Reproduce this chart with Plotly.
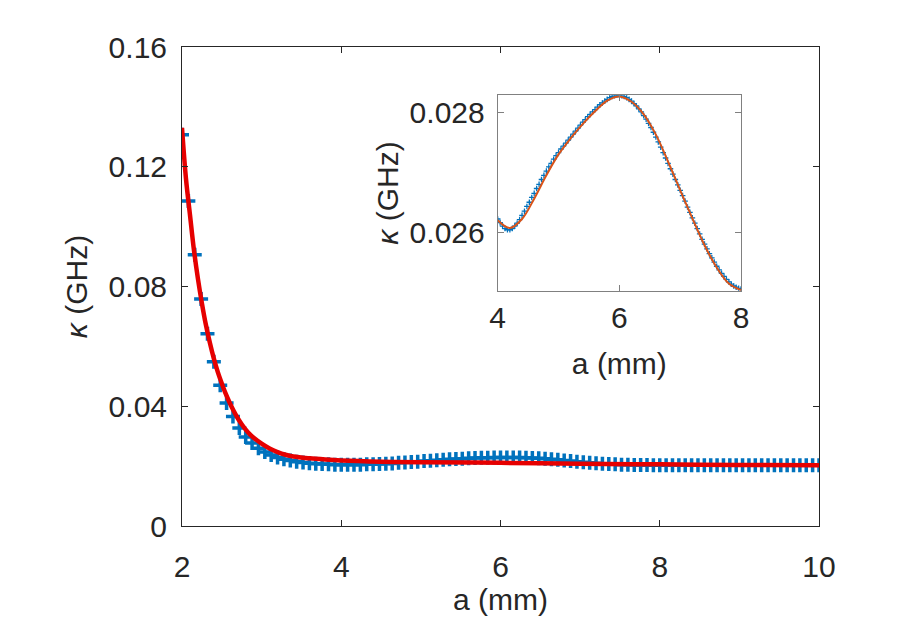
import numpy as np
import plotly.graph_objects as go

# main panel: simulated kappa (markers) vs a, step 0.08 mm
kappa_sim = [
    0.1307, 0.1086, 0.0906, 0.0758, 0.0642, 0.0549, 0.0470, 0.0411, 0.0366, 0.0327,
    0.0297, 0.0277, 0.0260, 0.0247, 0.0237, 0.0229, 0.0223, 0.0219, 0.0215, 0.0212,
    0.0210, 0.0208, 0.0207, 0.0206, 0.0205, 0.0205, 0.0205, 0.0205, 0.0205, 0.0206,
    0.0206, 0.0207, 0.0208, 0.0209, 0.0211, 0.0212, 0.0214, 0.0215, 0.0217, 0.0218,
    0.0220, 0.0221, 0.0223, 0.0224, 0.0225, 0.0226, 0.0227, 0.0228, 0.0228, 0.0229,
    0.0229, 0.0229, 0.0229, 0.0229, 0.0228, 0.0227, 0.0226, 0.0225, 0.0223, 0.0221,
    0.0219, 0.0217, 0.0215, 0.0213, 0.0211, 0.0210, 0.0208, 0.0207, 0.0206, 0.0205,
    0.0205, 0.0204, 0.0204, 0.0204, 0.0203, 0.0203, 0.0203, 0.0203, 0.0203, 0.0203,
    0.0203, 0.0203, 0.0203, 0.0203, 0.0203, 0.0203, 0.0203, 0.0203, 0.0203, 0.0203,
    0.0203, 0.0203, 0.0203, 0.0203, 0.0203, 0.0203, 0.0203, 0.0203, 0.0203, 0.0203,
    0.0203,
]
a_sim = np.linspace(2, 10, len(kappa_sim))

# main panel: fitted curve
a_fit = [2.00, 2.05, 2.10, 2.15, 2.20, 2.25, 2.30, 2.35, 2.40, 2.45, 2.50, 2.55,
         2.60, 2.65, 2.70, 2.75, 2.80, 2.85, 2.90, 3.00, 3.10, 3.20, 3.30, 3.40,
         3.60, 3.80, 4.00, 4.50, 5.00, 6.00, 7.00, 8.00, 9.00, 10.00]
kappa_fit = [0.1330, 0.1160, 0.1040, 0.0922, 0.0826, 0.0744, 0.0672, 0.0612, 0.0559,
             0.0514, 0.0476, 0.0441, 0.0411, 0.0384, 0.0360, 0.0340, 0.0322, 0.0307,
             0.0295, 0.0275, 0.0259, 0.0247, 0.0238, 0.0232, 0.0226, 0.0222, 0.0219,
             0.0215, 0.0213, 0.0211, 0.0208, 0.0206, 0.0204, 0.0203]

# inset: zoom on 4-8 mm, step 0.04 mm
kappa_zoom = [
    0.02622, 0.02616, 0.02610, 0.02606, 0.02604, 0.02604, 0.02606, 0.02610, 0.02615, 0.02621,
    0.02628, 0.02635, 0.02643, 0.02650, 0.02658, 0.02665, 0.02673, 0.02680, 0.02688, 0.02695,
    0.02702, 0.02709, 0.02715, 0.02722, 0.02728, 0.02733, 0.02739, 0.02744, 0.02749, 0.02754,
    0.02759, 0.02764, 0.02769, 0.02774, 0.02779, 0.02784, 0.02788, 0.02793, 0.02797, 0.02801,
    0.02805, 0.02809, 0.02813, 0.02816, 0.02819, 0.02822, 0.02825, 0.02827, 0.02828, 0.02829,
    0.02829, 0.02828, 0.02827, 0.02825, 0.02822, 0.02819, 0.02815, 0.02811, 0.02806, 0.02801,
    0.02795, 0.02789, 0.02782, 0.02775, 0.02767, 0.02759, 0.02751, 0.02742, 0.02733, 0.02724,
    0.02715, 0.02706, 0.02697, 0.02688, 0.02679, 0.02670, 0.02661, 0.02652, 0.02642, 0.02633,
    0.02624, 0.02615, 0.02606, 0.02597, 0.02588, 0.02580, 0.02572, 0.02564, 0.02557, 0.02550,
    0.02543, 0.02537, 0.02531, 0.02526, 0.02521, 0.02517, 0.02513, 0.02510, 0.02508, 0.02506,
    0.02505,
]
a_zoom = np.linspace(4, 8, len(kappa_zoom))

a_zoom_fit = [4.0, 4.2, 4.4, 4.6, 4.8, 5.0, 5.2, 5.4, 5.6, 5.8, 6.0,
              6.2, 6.4, 6.6, 6.8, 7.0, 7.2, 7.4, 7.6, 7.8, 8.0]
kappa_zoom_fit = [0.02620, 0.02607, 0.02622, 0.02656, 0.02695, 0.02730, 0.02757,
                  0.02781, 0.02802, 0.02820, 0.02827, 0.02818, 0.02797, 0.02763,
                  0.02718, 0.02670, 0.02623, 0.02578, 0.02541, 0.02514, 0.02503]

FONT = "Liberation Sans"
INK = "#262626"
BLUE = "#0072BD"

fig = go.Figure()

fig.add_trace(go.Scatter(
    x=a_sim, y=kappa_sim, mode="markers",
    marker={"symbol": "cross-thin", "size": 10, "line": {"color": BLUE, "width": 3.5}},
    xaxis="x", yaxis="y",
))
fig.add_trace(go.Scatter(
    x=a_fit, y=kappa_fit, mode="lines", line_shape="spline",
    line={"color": "#E60000", "width": 4.5},
    xaxis="x", yaxis="y",
))
fig.add_trace(go.Scatter(
    x=a_zoom, y=kappa_zoom, mode="markers",
    marker={"symbol": "cross-thin", "size": 4, "line": {"color": BLUE, "width": 1.3}},
    xaxis="x2", yaxis="y2",
))
fig.add_trace(go.Scatter(
    x=a_zoom_fit, y=kappa_zoom_fit, mode="lines", line_shape="spline",
    line={"color": "#D95319", "width": 2},
    xaxis="x2", yaxis="y2",
))

axis_common = {
    "showline": True, "mirror": "ticks", "ticks": "inside", "ticklen": 6,
    "tickwidth": 1, "showgrid": False, "zeroline": False,
    "tickfont": {"family": FONT, "size": 30, "color": INK},
}

fig.update_layout(
    showlegend=False,
    plot_bgcolor="white",
    paper_bgcolor="white",
    margin={"l": 174, "r": 89, "t": 39, "b": 91},
    font={"family": FONT, "color": INK},
    xaxis={
        **axis_common, "range": [2, 10], "tickvals": [2, 4, 6, 8, 10],
        "linecolor": INK, "tickcolor": INK, "ticklabelstandoff": 14,
        "title": {"text": "a (mm)", "font": {"size": 30}, "standoff": 6},
    },
    yaxis={
        **axis_common, "range": [0, 0.16], "tickvals": [0, 0.04, 0.08, 0.12, 0.16],
        "ticktext": ["0", "0.04", "0.08", "0.12", "0.16"],
        "linecolor": INK, "tickcolor": INK, "ticklabelstandoff": 8,
        "title": {"text": "<i>κ</i> (GHz)", "font": {"size": 30}, "standoff": 12},
    },
    xaxis2={
        **axis_common, "range": [4, 8], "tickvals": [4, 6, 8],
        "domain": [0.4956, 0.8776], "anchor": "y2",
        "linecolor": "#808080", "tickcolor": "#808080", "ticklabelstandoff": 0,
        "title": {"text": "a (mm)", "font": {"size": 30}, "standoff": 20},
    },
    yaxis2={
        **axis_common, "range": [0.02502, 0.02829], "tickvals": [0.026, 0.028],
        "ticktext": ["0.026", "0.028"],
        "domain": [0.4911, 0.8994], "anchor": "x2",
        "linecolor": "#808080", "tickcolor": "#808080", "ticklabelstandoff": 6,
        "title": {"text": "<i>κ</i> (GHz)", "font": {"size": 30}, "standoff": 2},
    },
)

fig.write_html("out.html")
